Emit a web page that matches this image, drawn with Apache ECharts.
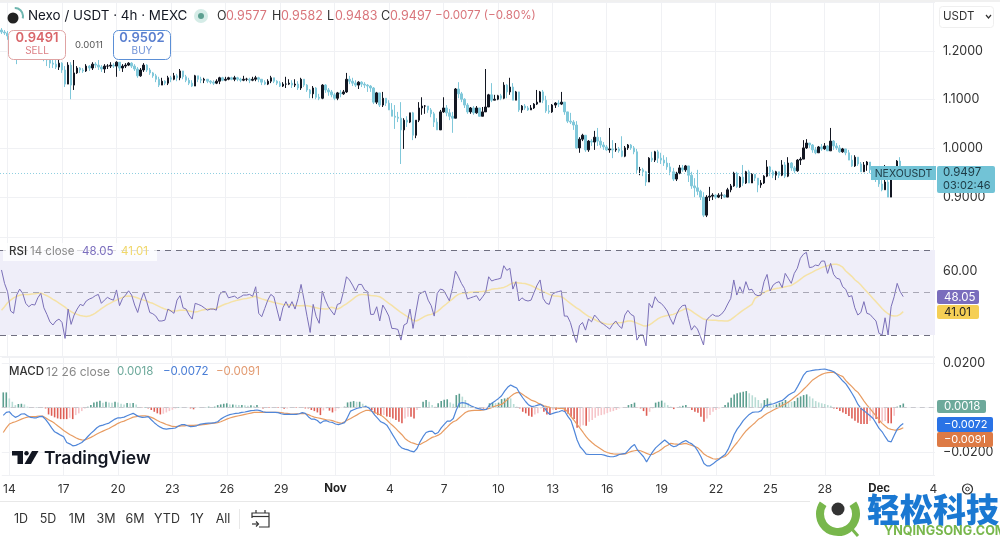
<!DOCTYPE html>
<html>
<head>
<meta charset="utf-8">
<style>html,body{margin:0;padding:0;background:#fff}#chart{width:1000px;height:537px}</style>
<script src="https://cdn.jsdelivr.net/npm/echarts@6/dist/echarts.min.js"></script>
</head>
<body>
<div id="chart"></div>
<script>
// 4h candles, one entry per bar
const firstOpen = 1.243;
const closes = [
1.239,1.237,1.231,1.227,1.212,1.198,1.202,1.196,1.192,1.198,
1.190,1.196,1.188,1.192,1.186,1.182,1.175,1.173,1.167,1.175,
1.161,1.132,1.171,1.130,1.155,1.165,1.161,1.159,1.169,1.165,
1.173,1.171,1.167,1.163,1.169,1.169,1.171,1.169,1.177,1.165,
1.169,1.171,1.175,1.169,1.163,1.149,1.161,1.171,1.161,1.155,
1.149,1.142,1.130,1.138,1.134,1.145,1.142,1.149,1.145,1.159,
1.147,1.140,1.134,1.128,1.149,1.142,1.140,1.142,1.138,1.136,
1.134,1.138,1.145,1.140,1.142,1.145,1.142,1.145,1.142,1.140,
1.142,1.142,1.140,1.142,1.145,1.142,1.136,1.132,1.138,1.145,
1.138,1.134,1.128,1.132,1.132,1.134,1.130,1.132,1.124,1.142,
1.130,1.120,1.112,1.124,1.105,1.103,1.130,1.120,1.116,1.110,
1.103,1.114,1.112,1.116,1.142,1.138,1.134,1.130,1.136,1.132,
1.130,1.128,1.124,1.095,1.114,1.089,1.103,1.093,1.079,1.066,
1.064,1.062,1.038,1.058,1.054,1.073,1.027,1.058,1.083,1.087,
1.087,1.079,1.071,1.054,1.038,1.075,1.083,1.073,1.066,1.062,
1.122,1.112,1.101,1.089,1.075,1.083,1.073,1.083,1.066,1.075,
1.085,1.110,1.099,1.101,1.108,1.103,1.130,1.116,1.126,1.099,
1.116,1.079,1.087,1.083,1.079,1.083,1.091,1.095,1.116,1.099,
1.077,1.075,1.089,1.093,1.091,1.095,1.075,1.056,1.054,1.048,
1.001,1.019,1.027,.997,1.015,1.013,1.023,1.015,1.007,1.003,
.997,.999,.997,.999,.995,.984,1.001,1.007,1.001,.993,
.956,.956,.952,.931,.980,.976,.993,.980,.976,.970,
.962,.952,.937,.949,.960,.956,.964,.945,.923,.919,
.912,.900,.863,.900,.902,.904,.900,.904,.904,.900,
.915,.923,.949,.921,.941,.929,.952,.929,.947,.939,
.925,.929,.943,.962,.952,.945,.952,.945,.966,.943,
.970,.960,.954,.976,.978,1.001,1.011,1.007,.997,.991,
1.003,.999,1.005,.995,1.015,1.005,1.001,.993,.999,.991,
.976,.964,.982,.968,.952,.966,.972,.956,.943,.939,
.927,.915,.931,.900,.945,.947,.974,.9577,.9497];
const highs = [
1.247,1.243,1.241,1.237,1.231,1.214,1.210,1.206,1.202,1.202,
1.202,1.202,1.198,1.202,1.196,1.192,1.186,1.182,1.182,1.182,
1.177,1.169,1.177,1.177,1.188,1.169,1.167,1.165,1.173,1.171,
1.177,1.177,1.188,1.171,1.173,1.173,1.177,1.175,1.179,1.177,
1.173,1.175,1.177,1.177,1.173,1.167,1.165,1.175,1.173,1.165,
1.157,1.153,1.147,1.145,1.140,1.149,1.149,1.155,1.153,1.163,
1.157,1.151,1.145,1.140,1.151,1.149,1.147,1.145,1.142,1.140,
1.140,1.142,1.147,1.147,1.147,1.147,1.147,1.149,1.147,1.145,
1.149,1.145,1.145,1.147,1.149,1.147,1.142,1.140,1.142,1.149,
1.145,1.140,1.138,1.136,1.147,1.142,1.140,1.142,1.138,1.145,
1.142,1.132,1.122,1.128,1.126,1.112,1.132,1.132,1.124,1.120,
1.114,1.116,1.120,1.120,1.155,1.149,1.145,1.140,1.138,1.138,
1.136,1.132,1.130,1.126,1.116,1.114,1.116,1.103,1.099,1.093,
1.089,1.075,1.095,1.062,1.066,1.073,1.075,1.058,1.095,1.105,
1.089,1.087,1.083,1.075,1.062,1.079,1.105,1.089,1.081,1.075,
1.124,1.136,1.116,1.103,1.093,1.085,1.087,1.087,1.083,1.085,
1.163,1.112,1.134,1.110,1.110,1.112,1.136,1.132,1.145,1.134,
1.118,1.114,1.089,1.091,1.087,1.089,1.093,1.120,1.118,1.120,
1.108,1.089,1.091,1.095,1.099,1.116,1.095,1.073,1.073,1.058,
1.056,1.023,1.030,1.027,1.017,1.019,1.036,1.042,1.023,1.013,
1.007,1.042,1.017,1.011,1.003,1.025,1.005,1.009,1.009,1.005,
.999,.962,.960,.954,.982,.993,.995,.997,.991,.986,
.982,.970,.960,.952,.966,.966,.966,.962,.952,.939,
.956,.915,.910,.904,.921,.908,.906,.908,.910,.906,
.919,.927,.952,.952,.943,.966,.954,.956,.949,.947,
.939,.935,.945,.976,.964,.956,.954,.952,.976,.972,
.982,.972,.964,.978,.982,1.017,1.019,1.011,1.009,1.003,
1.005,1.009,1.011,1.007,1.042,1.017,1.011,1.007,1.001,.999,
.997,.986,.986,.982,.972,.972,.974,.972,.960,.952,
.945,.935,.966,.943,.952,.956,.976,.982,.9582];
const lows = [
1.235,1.233,1.223,1.214,1.206,1.173,1.194,1.190,1.186,1.188,
1.184,1.186,1.182,1.184,1.179,1.169,1.165,1.165,1.163,1.161,
1.155,1.126,1.132,1.101,1.120,1.153,1.155,1.155,1.157,1.159,
1.161,1.165,1.161,1.157,1.155,1.163,1.165,1.165,1.147,1.159,
1.157,1.165,1.169,1.165,1.159,1.145,1.147,1.157,1.157,1.151,
1.145,1.136,1.126,1.130,1.130,1.130,1.136,1.140,1.138,1.140,
1.142,1.136,1.130,1.126,1.128,1.136,1.134,1.134,1.134,1.132,
1.130,1.132,1.132,1.138,1.138,1.140,1.140,1.138,1.138,1.136,
1.138,1.138,1.134,1.138,1.138,1.136,1.130,1.130,1.130,1.134,
1.134,1.130,1.126,1.126,1.124,1.130,1.124,1.126,1.120,1.120,
1.126,1.116,1.103,1.103,1.101,1.099,1.101,1.114,1.108,1.105,
1.099,1.099,1.105,1.110,1.114,1.132,1.128,1.126,1.122,1.126,
1.124,1.116,1.116,1.091,1.091,1.085,1.085,1.087,1.079,1.066,
1.040,1.054,.968,.999,1.044,1.052,1.017,1.021,1.054,1.069,
1.071,1.073,1.064,1.044,1.038,1.038,1.073,1.066,1.058,1.032,
1.062,1.103,1.095,1.083,1.071,1.071,1.069,1.071,1.066,1.066,
1.075,1.085,1.095,1.099,1.099,1.099,1.101,1.103,1.110,1.099,
1.099,1.075,1.073,1.079,1.077,1.079,1.081,1.089,1.095,1.093,
1.073,1.071,1.073,1.083,1.085,1.089,1.069,1.052,1.050,1.038,
.999,.991,1.015,.993,.993,1.005,.997,1.005,1.001,.997,
.995,.991,.980,.993,.991,.982,.982,.997,.997,.988,
.949,.945,.943,.923,.931,.972,.972,.970,.968,.964,
.956,.945,.933,.933,.947,.952,.952,.931,.917,.900,
.904,.894,.859,.859,.892,.894,.896,.898,.896,.898,
.900,.910,.921,.919,.919,.923,.927,.929,.929,.933,
.910,.919,.927,.941,.943,.939,.935,.939,.943,.939,
.941,.954,.949,.952,.966,.978,.999,1.001,.991,.988,
.991,.995,.997,.995,.995,.997,.997,.991,.991,.986,
.976,.962,.962,.964,.952,.952,.954,.949,.935,.931,
.921,.912,.915,.900,.900,.939,.943,.956,.9483];

const rsiValues = [
60.6,54.3,50.4,41.3,40.2,48.8,51.6,49.6,44.9,43.3,
44.4,44.1,47.5,49.6,42.8,39.7,36.2,34.7,36.6,37.5,
35.9,28.4,42.2,35,39.4,42.2,44.4,43.8,46,46.9,
47.5,48.5,49.1,44.9,46.4,47.7,46.9,46.4,51.2,43.8,
47.2,48.8,50.8,48.8,44.1,40.6,46,50,45.7,40.6,
40,38.9,36.6,36.6,37,42.2,41.3,40.2,46.4,48.5,
42.8,42.2,39.4,37.5,44.9,44.4,43.8,42.8,41.7,42.2,
42.2,41.7,48.8,50.4,50.4,47.5,47.9,48.3,47.2,48,
48.8,48.8,49.1,48.2,52.7,40.2,38.6,42.5,46.4,49.1,
48,42.2,36.6,42.8,45.7,42.8,45.7,42.2,47.2,53.8,
46.4,38.6,31.2,44.4,38.6,35.5,50.7,46.4,43.3,41.3,
39.4,44.4,44.9,50.4,57.4,55.9,53.5,50.7,53.8,53.8,
51.2,50.4,39.7,39.7,43.3,36.6,44.1,41.7,38.9,33.1,
33,32.6,27.6,34.7,35.5,42.2,33.1,41.3,49.1,50,
50.7,46.4,43.8,38.9,49.6,51.6,51.2,48.8,46.1,51.9,
60.1,57.4,54.3,51.9,46.9,47.5,48,48.5,46.1,48,
50,57.4,55.4,56,56.3,56.7,62.6,60.4,61.4,51.6,
55.1,46,47.5,46.4,46,46.4,50,53.5,55.9,47.2,
45,44.4,49.1,50,50.4,50.8,38.9,38.9,35.9,30.8,
26.5,34.4,35.9,32.3,37.5,36.2,39.4,37.8,35.9,35,
33.9,32.8,35,36.6,34.4,33.1,39.4,41.6,39.7,38.9,
27.6,30,30,24.9,44.9,42.8,48,45.7,44.9,43.3,
41.3,37.8,35,39.4,42.2,43.8,44.1,37.8,32.3,34.4,
32.8,29.2,25.3,37,38.6,39.7,38.9,38.9,39.9,41.7,
44.6,47.2,55.9,48.8,52.7,49.6,55.1,51.2,51.5,49.1,
48.5,48.8,55.1,58.5,50.7,53.5,54.6,55.1,52.3,59,
56.7,54.3,59,61.4,66.1,68,68.9,61.7,62,62.9,
62.6,64.8,64.8,59,63.7,58.5,56.7,56.3,52.7,51.5,
48,48.5,42.8,39.4,40.6,45.7,40.2,39.7,38.1,36.6,
30.8,30,38.1,30,43.3,48,54.3,50.4,48.05];
const rsiMa = [
41.7,43.3,45.2,46.4,47.5,48.2,48.7,49,49.1,49.1,
49.3,49.4,49.6,49.8,49.1,48.5,47.7,46.8,46,45,
44.1,43.1,41.9,41,40.2,39.7,39.2,38.9,38.7,38.9,
39.5,40.3,41.3,42.4,43.3,44.3,45,45.8,46.4,47.1,
47.7,48.2,48.3,48.2,47.9,47.4,46.9,46.4,46,45.3,
44.9,44.2,43.5,42.8,42.2,41.7,41.4,41.3,41.4,41.6,
41.7,41.6,41.3,41,40.8,41.1,41.6,41.9,42.2,42.4,
42.2,42.5,43.3,44,44.6,45,45.6,46,46.4,46.7,
47,47.2,47.5,47.9,48.2,47.5,47,46.6,46.1,45.8,
45.3,45,44.7,44.4,44.2,44.2,44.1,43.9,43.8,43.8,
43.9,43.8,43.5,43.1,42.8,42.5,42.4,42.2,42.4,43.1,
42.7,42.2,42.8,43.8,44.7,45.7,46.8,47.9,48.8,49.1,
49,48.8,48.6,48.5,48.3,48,47.1,46,44.9,43.9,
42.8,41.7,40.6,39.7,38.8,37.8,36.9,36.6,37.2,38.1,
38.9,39.4,39.7,40.2,41,42.2,43.5,44.6,45.8,46.9,
48.2,49.1,49.6,49.8,49.9,50.1,50.2,50.4,50.4,50.5,
50.7,51,51.5,51.8,51.9,52.1,52.4,53,53.8,54.5,
54.7,54.5,54.3,54.2,53.8,53.3,52.6,51.9,51.2,50.4,
49.8,49.1,48.6,48.3,48.2,48,47.2,46,44.9,43.8,
42.8,41.9,40.8,39.7,38.8,38.1,37.3,36.5,36.1,35.5,
35.2,35,35.3,35.6,35.8,35.9,36.2,36.6,36.6,36.2,
35.6,35,34.4,34.2,34.7,35.6,36.7,37.7,38.4,38.8,
39.2,39.4,39.7,40.3,41.1,41.7,42.4,42.2,41.3,40.3,
39.4,38.4,37.5,37.2,37,36.9,36.9,36.7,36.7,36.6,
36.6,37.2,38.3,39.4,40.5,41.6,42.5,43.5,44.4,47.2,
48.2,49.1,50,50.7,51.2,51.5,51.9,52.1,52.4,52.7,
53,53.3,54.2,55.1,56.2,57.3,58.2,58.9,59.6,60.4,
61,61.7,62.2,62.6,63.1,63.3,63.3,62.8,61.9,60.1,
58.9,57.6,56,54.9,53.5,51.9,50.4,48.8,47.2,45.7,
44.1,42.5,41.1,40,39.2,38.9,39,39.7,41.01];

// MACD panel, in units of 0.0001
const macdLine = [
-35,-22,-19,-34,-44,-38,-29,-28,-37,-44,
-46,-46,-41,-40,-53,-71,-91,-109,-116,-124,
-131,-157,-163,-172,-170,-164,-157,-145,-130,-116,
-104,-91,-82,-79,-74,-70,-61,-52,-46,-46,
-43,-37,-31,-26,-34,-41,-44,-43,-41,-55,
-68,-79,-88,-95,-97,-95,-94,-92,-83,-77,
-77,-82,-86,-85,-82,-76,-73,-71,-70,-70,
-68,-64,-52,-44,-37,-32,-29,-26,-25,-22,
-20,-17,-14,-13,-11,-14,-19,-22,-22,-22,
-22,-23,-28,-31,-31,-31,-31,-31,-28,-23,
-26,-41,-52,-52,-58,-71,-61,-59,-65,-67,
-74,-77,-73,-68,-44,-16,-10,-4,-1,1,
4,-1,-16,-34,-49,-64,-70,-79,-101,-124,
-146,-169,-182,-187,-190,-196,-199,-184,-154,-131,
-112,-107,-106,-119,-112,-91,-76,-61,-61,-49,
-11,19,22,20,14,7,1,-4,-7,-10,
-8,11,22,31,41,53,74,91,101,94,
88,64,44,26,11,4,7,11,14,4,
-19,-31,-26,-22,-19,-13,-19,-41,-59,-101,
-146,-176,-191,-209,-211,-211,-211,-211,-211,-214,
-218,-221,-221,-217,-211,-208,-206,-191,-176,-166,
-191,-206,-221,-244,-221,-199,-181,-169,-157,-146,
-157,-169,-176,-172,-163,-154,-148,-157,-163,-176,
-196,-221,-251,-262,-262,-253,-241,-232,-221,-211,
-188,-157,-121,-97,-79,-59,-44,-31,-22,-20,
-20,-14,7,11,14,17,22,28,32,44,
56,64,71,94,119,146,161,164,167,169,
170,172,173,169,166,161,149,134,119,106,
86,64,41,14,-4,-14,-26,-37,-49,-71,
-94,-109,-131,-151,-154,-124,-97,-82,-72];
const signalLine = [
-112,-91,-74,-68,-64,-58,-52,-47,-43,-41,
-41,-40,-38,-38,-46,-55,-62,-71,-82,-92,
-103,-112,-121,-128,-136,-142,-145,-146,-140,-134,
-127,-119,-112,-106,-100,-94,-86,-79,-71,-65,
-61,-55,-49,-43,-41,-38,-37,-37,-40,-44,
-50,-58,-65,-70,-76,-80,-85,-86,-85,-82,
-82,-80,-80,-80,-79,-79,-77,-76,-73,-71,
-70,-68,-64,-58,-52,-47,-43,-40,-37,-34,
-31,-28,-25,-22,-22,-22,-22,-22,-22,-22,
-22,-22,-23,-25,-26,-28,-29,-28,-28,-26,
-28,-32,-38,-43,-46,-49,-52,-55,-56,-59,
-64,-68,-71,-64,-56,-49,-41,-34,-26,-19,
-13,-13,-16,-22,-28,-34,-44,-56,-70,-82,
-95,-109,-122,-139,-149,-157,-161,-166,-166,-158,
-151,-142,-134,-130,-124,-115,-101,-88,-74,-64,
-58,-46,-34,-22,-16,-14,-13,-13,-13,-11,
-7,-4,2,7,11,14,25,37,50,61,
67,68,59,49,41,32,28,20,14,8,
4,1,-1,-2,-4,-4,-7,-22,-41,-58,
-76,-94,-112,-131,-146,-158,-169,-178,-187,-196,
-202,-206,-208,-209,-209,-209,-208,-202,-197,-194,
-191,-194,-200,-206,-211,-211,-203,-196,-187,-176,
-169,-161,-163,-164,-166,-163,-161,-166,-170,-175,
-181,-194,-209,-218,-224,-230,-232,-229,-224,-220,
-208,-191,-173,-157,-139,-121,-104,-91,-79,-67,
-53,-46,-35,-26,-19,-11,-4,2,10,17,
25,35,46,56,68,82,95,110,124,133,
142,149,154,157,158,158,152,145,139,121,
107,94,79,68,49,29,11,-5,-22,-38,
-56,-71,-83,-94,-98,-101,-101,-97,-91];
const macdHist = [
68,68,41,26,11,16,17,14,4,2,
-1,1,-1,1,-4,-31,-37,-44,-49,-52,
-52,-52,-46,-52,-34,-26,-16,-4,4,11,
23,26,31,22,26,23,22,26,23,17,
14,20,19,20,14,1,-1,2,-4,-11,
-19,-26,-31,-28,-22,-16,-10,-4,2,1,
2,1,-4,-8,-1,1,1,1,4,2,
4,11,14,17,19,14,14,13,11,11,
10,8,10,8,11,1,-4,-1,-2,-1,
-1,-2,-1,-5,-4,-1,-1,-2,-1,-1,
-4,-4,-11,-16,-22,-34,-13,-4,-14,-22,
-16,-4,-1,4,23,26,29,26,26,17,
11,4,-11,-26,-34,-37,-34,-40,-43,-49,
-56,-64,-71,-49,-41,-41,-49,-11,-1,26,
34,26,11,4,19,29,35,37,23,17,
56,62,49,34,19,7,2,1,-4,-5,
-4,19,22,20,22,38,41,44,41,16,
4,-4,-19,-26,-37,-41,-31,-26,-4,-19,
-31,-34,-11,-11,-7,-7,-19,-28,-41,-52,
-91,-86,-79,-82,-64,-56,-46,-37,-34,-31,
-25,-19,-16,-11,-4,-1,2,11,16,22,
-1,-4,-16,-37,-19,-4,22,26,31,22,
11,4,-7,-1,4,8,11,-1,-11,-19,
-23,-41,-64,-49,-34,-19,-11,-4,1,11,
23,44,59,64,68,71,74,64,55,46,
34,19,34,41,26,11,14,22,26,34,
29,26,29,44,50,56,59,50,41,29,
23,19,16,11,8,-4,-7,-16,-22,-29,
-38,-49,-59,-68,-74,-74,-74,-59,-49,-52,
-71,-64,-61,-71,-71,-37,4,11,18];

// day marks every 18 bars starting at bar 2
const dayLabels = ['14','17','20','23','26','29','Nov','4','7','10','13','16','19','22','25','28','Dec','4'];
const rsiLevels = [70, 50, 30];
const macdZero = 0;
const barCount = 309;

const FONT = 'Inter, "Noto Sans", sans-serif';
const upColor = '#131722', downColor = '#80c8da';
const gridColor = '#f0f1f4';

const opens = closes.map((c, i) => i === 0 ? firstOpen : closes[i - 1]);
const candles = closes.map((c, i) => [opens[i], c, lows[i], highs[i]]);
const categories = [];
for (let i = 0; i < barCount; i++) {
  categories.push((i - 2) % 18 === 0 ? dayLabels[(i - 2) / 18] : '');
}
const isDayTick = i => (i - 2) % 18 === 0;

function histColor(v, i) {
  const prev = i > 0 ? macdHist[i - 1] : v;
  if (v >= 0) return v >= prev ? '#5c9f90' : '#b9dcd5';
  return v <= prev ? '#de5f56' : '#f6c6ca';
}

function xAxis(gridIndex, showLabel) {
  return {
    type: 'category', gridIndex, data: categories, boundaryGap: true,
    axisLine: {show: false}, axisTick: {show: false},
    splitLine: {show: true, interval: isDayTick, alignWithLabel: true, lineStyle: {color: gridColor}},
    axisLabel: {
      show: showLabel, interval: isDayTick, margin: 8, fontSize: 12, color: '#333', fontFamily: FONT,
      formatter: v => /[A-Z]/.test(v) ? '{b|' + v + '}' : v,
      rich: {b: {fontWeight: 700, fontSize: 11.5, color: '#222', fontFamily: FONT}}
    }
  };
}
function yAxis(gridIndex, min, max, split, fmt) {
  return {
    type: 'value', gridIndex, position: 'right', min, max, splitNumber: split, scale: true,
    axisLine: {show: false}, axisTick: {show: false},
    splitLine: {show: true, lineStyle: {color: gridColor}},
    axisLabel: {margin: 8, fontSize: 12.5, color: '#333', fontFamily: FONT, formatter: fmt, showMinLabel: true, showMaxLabel: true}
  };
}

// overlay text and tags
function txt(x, y, text, size, fill, weight, align) {
  return {type: 'text', z: 100, style: {x, y, text, fill, textAlign: align || 'left', textVerticalAlign: 'middle',
    font: (weight || 400) + ' ' + size + 'px ' + FONT}};
}
function box(x, y, w, h, fill, stroke, r) {
  return {type: 'rect', z: 99, shape: {x, y, width: w, height: h, r: r || 0},
    style: {fill, stroke: stroke || null, lineWidth: 1}};
}
function poly(points, fill) {
  return {type: 'polygon', z: 100, shape: {points}, style: {fill}};
}
function stroke(points, color, width) {
  return {type: 'polyline', z: 100, shape: {points}, style: {stroke: color, fill: null, lineWidth: width || 1.2}};
}
const red = '#d9757b';
const overlay = [
  box(0, 0, 1000, 2, '#f0f0f0'),
  {type: 'circle', z: 100, shape: {cx: 13, cy: 18, r: 5.5}, style: {fill: '#222'}},
  {type: 'arc', z: 100, shape: {cx: 15, cy: 16, r: 8, startAngle: -1.6, endAngle: 0.3}, style: {stroke: '#6fb6b0', lineWidth: 2, fill: null}},
  txt(28, 16, 'Nexo / USDT · 4h · MEXC', 13.4, '#131722'),
  {type: 'circle', z: 100, shape: {cx: 201, cy: 16, r: 7}, style: {fill: '#d5ece7'}},
  {type: 'circle', z: 100, shape: {cx: 201, cy: 16, r: 3}, style: {fill: '#5c9f90'}},
  txt(217, 16, 'O', 12.5, '#333'), txt(226, 16, '0.9577', 12.5, red),
  txt(272, 16, 'H', 12.5, '#333'), txt(281, 16, '0.9582', 12.5, red),
  txt(327, 16, 'L', 12.5, '#333'), txt(335, 16, '0.9483', 12.5, red),
  txt(381, 16, 'C', 12.5, '#333'), txt(390, 16, '0.9497', 12.5, red),
  txt(435, 16, '−0.0077 (−0.80%)', 11.6, red),

  box(8, 30, 163, 30, '#fff'),
  box(8.5, 30.5, 57, 29, '#fff', '#dfa3a3', 5),
  txt(37, 38.5, '0.9491', 13, '#d9666a', 600, 'center'),
  txt(37, 51, 'SELL', 10, '#dc7f85', 400, 'center'),
  txt(89, 45, '0.0011', 9.5, '#555', 400, 'center'),
  box(113.5, 30.5, 57, 29, '#fff', '#5b8fd6', 5),
  txt(142, 38.5, '0.9502', 13, '#5b80d0', 600, 'center'),
  txt(142, 51, 'BUY', 10, '#6d90d6', 400, 'center'),

  box(939.5, 6.5, 54, 21, '#fff', '#efefef', 3),
  txt(943, 16.5, 'USDT', 11.5, '#333'),
  stroke([[986, 15], [988.5, 18], [991, 15]], '#333'),

  // last price tags
  box(871, 166, 65, 14, '#72c3d6'),
  txt(903.5, 173.5, 'NEXOUSDT', 10.5, '#1d3a44', 400, 'center'),
  box(937, 166, 58, 27, '#72c3d6', null, 2),
  txt(943, 173, '0.9497', 11.5, '#1d3a44'),
  txt(943, 185.5, '03:02:46', 11, '#1d3a44'),
  box(937, 290, 42, 14, '#7a6dbd', null, 2),
  txt(944, 297.5, '48.05', 11.5, '#fff'),
  box(937, 305, 42, 14, '#f5cf55', null, 2),
  txt(944, 312.5, '41.01', 11.5, '#222'),
  box(937, 400, 49, 13, '#6da99b', null, 2),
  txt(944, 406.5, '0.0018', 11.5, '#fff'),
  box(937, 417, 56, 15, '#2a73e6', null, 2),
  txt(944, 424.5, '−0.0072', 11, '#fff'),
  box(937, 432, 56, 15, '#dd7a45', null, 2),
  txt(944, 439.5, '−0.0091', 11, '#fff'),

  // indicator legends
  box(3, 243, 154, 18, 'rgba(255,255,255,.75)'),
  txt(9, 252, 'RSI', 11.5, '#333', 500),
  txt(30, 252, '14 close', 11.5, '#888'),
  txt(82, 252, '48.05', 11.5, '#7a6dbd'),
  txt(121, 252, '41.01', 11.5, '#f0d769'),
  txt(9, 372, 'MACD', 11.5, '#333', 500),
  txt(46, 372, '12 26 close', 12, '#888'),
  txt(117, 372, '0.0018', 11.5, '#6da99b'),
  txt(163, 372, '−0.0072', 11.5, '#4a7ed6'),
  txt(216, 372, '−0.0091', 11.5, '#e29a70'),

  // TradingView mark
  poly([[12, 451], [23, 451], [23, 464], [17.5, 464], [17.5, 455.5], [12, 455.5]], '#131722'),
  {type: 'circle', z: 100, shape: {cx: 26.5, cy: 453.2, r: 2.2}, style: {fill: '#131722'}},
  poly([[32, 451], [38.5, 451], [31, 464], [24.5, 464]], '#131722'),
  txt(44, 458.5, 'TradingView', 17.5, '#131722', 600),

  // bottom toolbar
  {type: 'line', z: 98, shape: {x1: 0, y1: 501.5, x2: 810, y2: 501.5}, style: {stroke: '#e8e8e8', lineWidth: 1}},
  txt(21, 519.5, '1D', 12.5, '#333', 400, 'center'),
  txt(48, 519.5, '5D', 12.5, '#333', 400, 'center'),
  txt(77, 519.5, '1M', 12.5, '#333', 400, 'center'),
  txt(106, 519.5, '3M', 12.5, '#333', 400, 'center'),
  txt(135, 519.5, '6M', 12.5, '#333', 400, 'center'),
  txt(167, 519.5, 'YTD', 12.5, '#333', 400, 'center'),
  txt(197, 519.5, '1Y', 12.5, '#333', 400, 'center'),
  txt(223, 519.5, 'All', 12.5, '#333', 400, 'center'),
  {type: 'line', z: 98, shape: {x1: 239.5, y1: 509, x2: 239.5, y2: 529}, style: {stroke: '#e8e8e8', lineWidth: 1}},
  stroke([[252, 518], [252, 513], [269, 513], [269, 527], [259, 527]], '#333'),
  stroke([[252, 516.5], [269, 516.5]], '#333'),
  stroke([[256, 510], [256, 513]], '#333'),
  stroke([[265, 510], [265, 513]], '#333'),
  stroke([[252, 524], [258, 524]], '#333'),
  stroke([[256, 521.5], [258.5, 524], [256, 526.5]], '#333'),

  // settings gear
  {type: 'circle', z: 100, shape: {cx: 967.5, cy: 489, r: 5}, style: {fill: null, stroke: '#333', lineWidth: 1.2}},
  {type: 'circle', z: 100, shape: {cx: 967.5, cy: 489, r: 1.8}, style: {fill: null, stroke: '#333', lineWidth: 1}},

  // site watermark
  {type: 'arc', z: 101, shape: {cx: 838, cy: 514, r: 18, startAngle: -0.6, endAngle: Math.PI + 0.6, clockwise: true},
    style: {stroke: '#78b74c', lineWidth: 8, fill: null}},
  {type: 'circle', z: 101, shape: {cx: 838, cy: 509, r: 6.5}, style: {fill: '#333'}},
  {type: 'line', z: 101, shape: {x1: 851, y1: 528, x2: 858, y2: 536}, style: {stroke: '#78b74c', lineWidth: 3}},
  {type: 'text', z: 101, style: {x: 867, y: 509, text: '轻松科技', fill: '#1a78d2', textVerticalAlign: 'middle',
    font: '900 33px "Noto Sans CJK SC", sans-serif'}},
  {type: 'text', z: 101, style: {x: 884, y: 531, text: 'YNQINGSONG.COM', fill: '#78b74c', textVerticalAlign: 'middle',
    font: '700 12.6px ' + FONT}}
];

const chart = echarts.init(document.getElementById('chart'), null, {renderer: 'canvas'});
chart.setOption({
  animation: false,
  backgroundColor: '#fff',
  grid: [
    {left: 0, width: 935, top: 0, height: 237},
    {left: 0, width: 935, top: 237.25, height: 119},
    {left: 0, width: 935, top: 357, height: 118}
  ],
  xAxis: [xAxis(0, false), xAxis(1, false), xAxis(2, true)],
  yAxis: [
    yAxis(0, 0.8181, 1.3047, 5, v => {
      const r = Math.round(v * 10) / 10;
      return Math.abs(v - r) < 1e-6 && r >= 0.9 && r <= 1.2 ? v.toFixed(4) : '';
    }),
    yAxis(1, 20, 76, 3, v => v === 60 ? '60.00' : ''),
    yAxis(2, -0.0303, 0.0227, 3, v => Math.abs(Math.abs(v) - 0.02) < 1e-6 ? (v < 0 ? '−' : '') + Math.abs(v).toFixed(4) : '')
  ],
  series: [
    {
      type: 'candlestick', xAxisIndex: 0, yAxisIndex: 0, data: candles, barWidth: 2, clip: true,
      itemStyle: {color: upColor, color0: downColor, borderColor: upColor, borderColor0: downColor, borderWidth: 1},
      markLine: {
        silent: true, symbol: 'none', label: {show: false},
        data: [{yAxis: closes[closes.length - 1], lineStyle: {type: [1, 2], color: '#8fcfe0', width: 1}}]
      }
    },
    {
      type: 'line', xAxisIndex: 1, yAxisIndex: 1, data: rsiValues, showSymbol: false, z: 4,
      lineStyle: {color: '#7b70b8', width: 1},
      markArea: {silent: true, itemStyle: {color: '#efeef9'}, data: [[{yAxis: rsiLevels[2]}, {yAxis: rsiLevels[0]}]]},
      markLine: {
        silent: true, symbol: 'none', label: {show: false},
        data: rsiLevels.map(v => ({yAxis: v, lineStyle: {type: [6, 5], width: 1, color: v === 50 ? '#a9a8b6' : '#6f6f80'}}))
      }
    },
    {type: 'line', xAxisIndex: 1, yAxisIndex: 1, data: rsiMa, showSymbol: false, z: 3, lineStyle: {color: '#f5e2a6', width: 1.5}},
    {
      type: 'bar', xAxisIndex: 2, yAxisIndex: 2, barWidth: 1.6,
      data: macdHist.map((v, i) => ({value: v / 1e4, itemStyle: {color: histColor(v, i)}})),
      markLine: {
        silent: true, symbol: 'none', label: {show: false},
        lineStyle: {type: [5, 4], color: '#c9c9cf', width: 1}, data: [{yAxis: macdZero}]
      }
    },
    {type: 'line', xAxisIndex: 2, yAxisIndex: 2, data: signalLine.map(v => v / 1e4), showSymbol: false, z: 3, lineStyle: {color: '#e89c62', width: 1.2}},
    {type: 'line', xAxisIndex: 2, yAxisIndex: 2, data: macdLine.map(v => v / 1e4), showSymbol: false, z: 4, lineStyle: {color: '#4f86d9', width: 1.2}}
  ],
  graphic: overlay
});
window.addEventListener('resize', () => chart.resize());
</script>
</body>
</html>
